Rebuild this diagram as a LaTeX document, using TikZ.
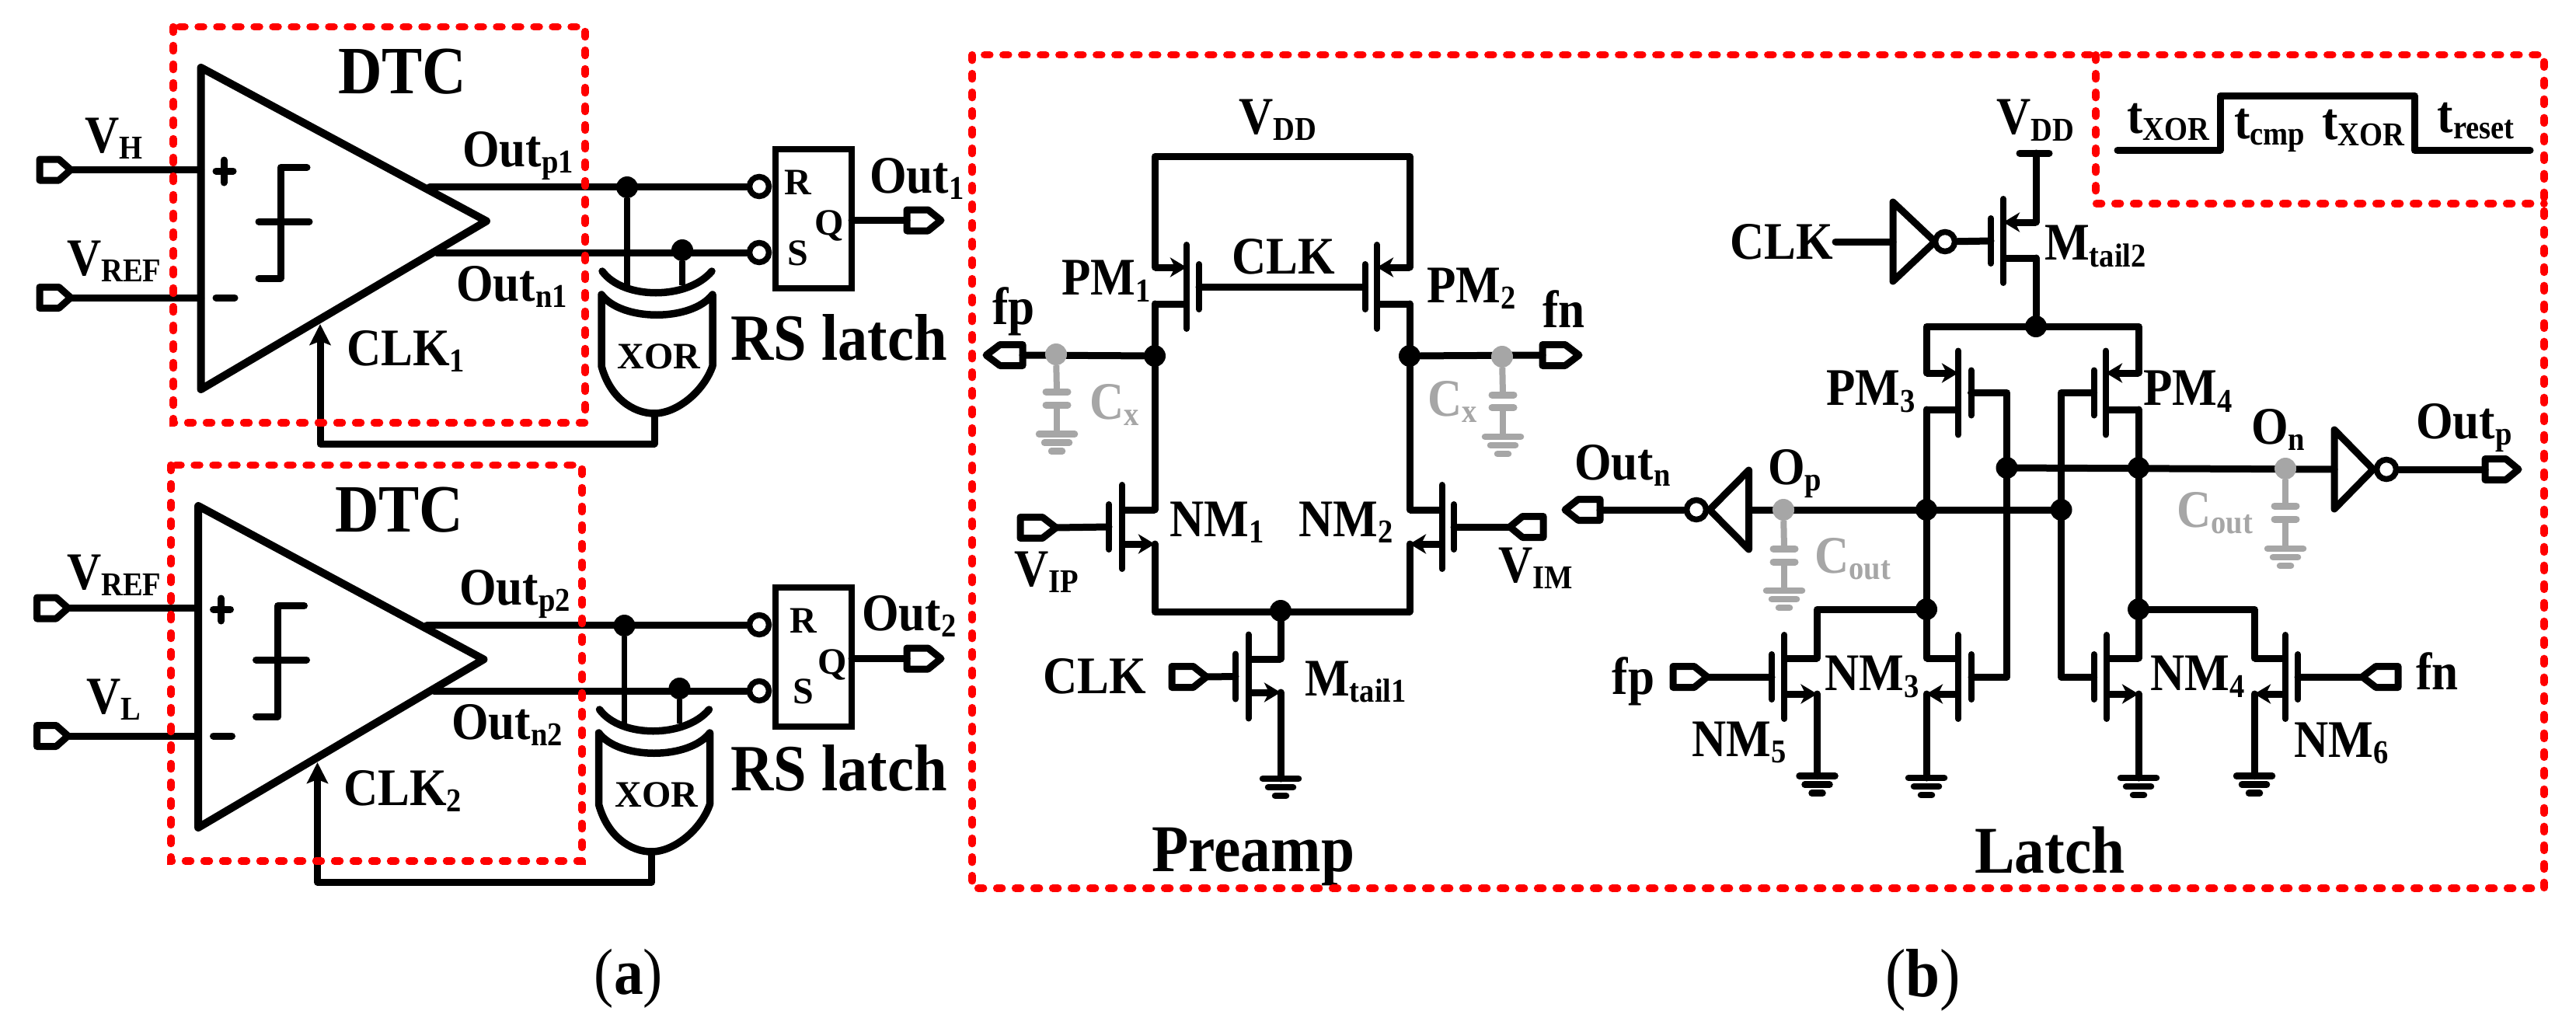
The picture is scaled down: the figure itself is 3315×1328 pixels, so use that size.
\documentclass[tikz,border=0pt]{standalone}
\usepackage{fontspec}
\usepackage{graphicx}
\setmainfont{Liberation Serif}
\usetikzlibrary{arrows.meta,calc}
\definecolor{gr}{HTML}{A6A6A6}
\definecolor{rd}{HTML}{FF0000}
\tikzset{
  wire/.style={draw=black,line width=9pt,line cap=round,line join=round},
  bar/.style={draw=black,line width=8pt,line cap=round},
  tri/.style={draw=black,fill=white,line width=10pt,line join=round},
  thinw/.style={draw=black,line width=7.5pt},
  redbox/.style={draw=rd,line width=9.5pt,line cap=round,dash pattern=on 7pt off 17pt},
  dot/.style={circle,fill=black,inner sep=0pt,minimum size=28pt},
  gdot/.style={circle,fill=gr,inner sep=0pt,minimum size=28pt},
  bub/.style={circle,draw=black,fill=white,line width=7.5pt,inner sep=0pt,minimum size=25pt},
  lbl/.style={anchor=base west,inner sep=0pt,font=\bfseries},
  cen/.style={anchor=base,inner sep=0pt,font=\bfseries},
  fettip/.style={-{Stealth[length=21pt,width=25pt,inset=6pt]}},
  clktip/.style={-{Stealth[length=27pt,width=27pt,inset=5pt]}}
}
% text label: [colour]{name}{x}{y}{size}{main}{sub}
\newcommand\Lb[7][black]{%
  \pgfmathsetmacro\subsz{#5*0.63}%
  \node[lbl,text=#1] (#2) at (#3,#4) {\scalebox{0.9}[1]{\fontsize{#5}{#5}\selectfont #6\raisebox{-0.13em}{\fontsize{\subsz}{\subsz}\selectfont #7}}};}
% port: {name}{outer tail x}{outer tip x}{y}
\newcommand\port[4]{%
  \pgfmathsetmacro\ps{(#3>#2)?1:-1}%
  \pgfmathsetmacro\pa{#2+4*\ps}%
  \pgfmathsetmacro\pb{#3-5*\ps}%
  \pgfmathsetmacro\pm{\pa+0.62*(\pb-\pa)}%
  \pgfmathsetmacro\pu{#4-13.5}%
  \pgfmathsetmacro\pd{#4+13.5}%
  \coordinate (#1-t) at (\pa,#4);
  \coordinate (#1-p) at (\pb,#4);
  \draw[wire,fill=white] (\pa,\pu) -- (\pm,\pu) -- (#1-p) -- (\pm,\pd) -- (\pa,\pd) -- cycle;}
% ground: {name}{x}{y}{colour}
\newcommand\gnd[4]{%
  \coordinate (#1) at (#2,#3);
  \draw[line width=8.5pt,line cap=round,draw=#4] ($(#1)+(-23,0)$) -- ($(#1)+(23,0)$);
  \draw[line width=8.5pt,line cap=round,draw=#4] ($(#1)+(-16,11)$) -- ($(#1)+(16,11)$);
  \draw[line width=8.5pt,line cap=round,draw=#4] ($(#1)+(-7,22)$) -- ($(#1)+(7,22)$);}
% gray capacitor: {name}{x}{plate1 y}{plate2 y}{ground y}{dot}
\newcommand\capg[6]{%
  \coordinate (#1-a) at (#2,#3);
  \coordinate (#1-b) at (#2,#4);
  \gnd{#1-g}{#2}{#5}{gr}
  \draw[line width=8pt,draw=gr] (#6) -- (#1-a);
  \draw[line width=8pt,draw=gr] (#1-b) -- (#1-g);
  \draw[line width=9pt,line cap=round,draw=gr] ($(#1-a)+(-14,0)$) -- ($(#1-a)+(14,0)$);
  \draw[line width=9pt,line cap=round,draw=gr] ($(#1-b)+(-14,0)$) -- ($(#1-b)+(14,0)$);}
% mosfet: {name}{channel x}{gate x}{gate y}{top y}{bottom y}{top x}{bottom x}{t|b arrow}
\newcommand\fet[9]{%
  \coordinate (#1-g) at (#3,#4);
  \coordinate (#1-t) at (#7,#5);
  \coordinate (#1-b) at (#8,#6);
  \coordinate (#1-ct) at (#2,#5);
  \coordinate (#1-cb) at (#2,#6);
  \draw[bar] ($(#2,#4)+(0,-54)$) -- ($(#2,#4)+(0,54)$);
  \draw[bar] ($(#1-g)+(0,-29)$) -- ($(#1-g)+(0,29)$);
  \if#9t
    \draw[wire,line cap=butt] (#1-cb) -- (#1-b);
    \draw[wire,line cap=butt,fettip] (#1-t) -- (#1-ct);
  \else
    \draw[wire,line cap=butt] (#1-ct) -- (#1-t);
    \draw[wire,line cap=butt,fettip] (#1-cb) -- (#1-b);
  \fi}
% inverter triangle: {name}{base x}{tip x}{y}
\newcommand\invt[4]{%
  \coordinate (#1-i) at (#2,#4);
  \coordinate (#1-o) at (#3,#4);
  \draw[line width=9pt,line join=round,draw=black,fill=white] ($(#1-i)+(0,-51)$) -- (#1-o) -- ($(#1-i)+(0,51)$) -- cycle;}
% comparator + XOR + latch unit: {prefix}{dx}{dy}
\newcommand\dtc[3]{%
  \begin{scope}[shift={(#2,#3)}]
    \draw[tri] (258.6,87) -- (626,284.5) -- (258.6,501) -- cycle;
    \draw[wire] (278,220) -- (300,220);
    \draw[wire] (288,206) -- (288,235);
    \draw[wire] (278,383) -- (302,383);
    \draw[wire] (395,215.5) -- (361,215.5) -- (361,358) -- (333,358);
    \draw[wire] (333,285) -- (398,285);
    \port{#1ip}{47}{96}{218.5}
    \port{#1im}{47}{96}{383}
    \coordinate (#1pl) at (258.6,218.5);
    \coordinate (#1ml) at (258.6,383);
    \draw[wire] (#1ip-p) -- (#1pl);
    \draw[wire] (#1im-p) -- (#1ml);
    \coordinate (#1op) at (553,240);
    \coordinate (#1on) at (562,325);
    \coordinate (#1a) at (807,367);
    \coordinate (#1b) at (878,367);
    \node[dot] (#1dp) at (807,241) {};
    \node[dot] (#1dn) at (878,322) {};
    \draw[line width=9.5pt,line cap=round] (775,349) .. controls (802,386) and (885,386) .. (916,349);
    \draw[line width=9.5pt,line join=round,fill=white] (774,379) -- (774,471) .. controls (785,512) and (815,532) .. (842,532) .. controls (870,532) and (905,505) .. (917,471) -- (917,379) .. controls (890,414) and (800,414) .. (774,379) -- cycle;
    \coordinate (#1xo) at (842,532);
    \coordinate (#1fb) at (842,571);
    \coordinate (#1fl) at (412,571);
    \coordinate (#1tip) at (412,417);
    \draw[wire,clktip] (#1xo) -- (#1fb) -- (#1fl) -- (#1tip);
    \draw[thinw] (#1dp) -- (#1a);
    \draw[thinw] (#1dn) -- (#1b);
  \end{scope}
  \begin{scope}[shift={(0,#3)}]
    \node[bub] (#1br) at (977,240) {};
    \node[bub] (#1bs) at (977,325) {};
    \node[draw=black,line width=8.5pt,minimum width=98pt,minimum height=179pt,inner sep=0pt] (#1rs) at (1047,281.5) {};
    \coordinate (#1qo) at (1096,283.5);
    \port{#1q}{1163}{1216}{283.5}
    \draw[wire] (#1qo) -- (#1q-t);
  \end{scope}
  \draw[wire] (#1op) -- (#1br);
  \draw[wire] (#1on) -- (#1bs);}
\begin{document}
\begin{tikzpicture}[x=1pt,y=-1pt]
\useasboundingbox (0,0) rectangle (3315,1328);
\fill[white] (0,0) rectangle (3315,1328);

%% ---------- (a) ----------
\dtc{u}{0}{0}
\dtc{w}{-3.5}{564}
\Lb{tdtc1}{435}{120}{87}{DTC}{}
\Lb{tdtc2}{431}{684}{87}{DTC}{}
\Lb{tvh}{109}{196}{68}{V}{H}
\Lb{tvr1}{86}{354}{68}{V}{REF}
\Lb{tvr2}{86}{758}{68}{V}{REF}
\Lb{tvl}{111}{918}{68}{V}{L}
\Lb{top1}{595}{214}{68}{Out}{p1}
\Lb{ton1}{587}{387}{68}{Out}{n1}
\Lb{top2}{591}{778}{68}{Out}{p2}
\Lb{ton2}{581}{951}{68}{Out}{n2}
\Lb{tck1}{446}{470}{68}{CLK}{1}
\Lb{tck2}{442}{1036}{68}{CLK}{2}
\Lb{trs1}{940}{463}{85}{RS latch}{}
\Lb{trs2}{940}{1017}{85}{RS latch}{}
\Lb{tq1}{1119}{248}{68}{Out}{1}
\Lb{tq2}{1109}{811}{68}{Out}{2}
\node[cen] (xt1) at (848,474) {\fontsize{48}{48}\selectfont XOR};
\node[cen] (xt2) at (845,1038) {\fontsize{48}{48}\selectfont XOR};
\node[cen] (rt1) at (1027,250) {\fontsize{48}{48}\selectfont R};
\node[cen] (st1) at (1027,341) {\fontsize{48}{48}\selectfont S};
\node[cen] (qt1) at (1067,302) {\fontsize{48}{48}\selectfont Q};
\node[cen] (rt2) at (1034,814) {\fontsize{48}{48}\selectfont R};
\node[cen] (st2) at (1034,905) {\fontsize{48}{48}\selectfont S};
\node[cen] (qt2) at (1071,867) {\fontsize{48}{48}\selectfont Q};
\node[anchor=base,inner sep=0pt] (capa) at (809,1279) {\scalebox{0.9}[1]{\fontsize{84}{84}\selectfont (\textbf{a})}};
\node[anchor=base,inner sep=0pt] (capb) at (2474.5,1282) {\scalebox{0.9}[1]{\fontsize{88}{88}\selectfont (\textbf{b})}};

%% ---------- Preamp ----------
\fet{pma}{1527}{1543}{369}{344}{391}{1486}{1486}{t}
\fet{pmb}{1772}{1756.5}{369}{344}{391}{1814}{1814}{t}
\fet{nma}{1444}{1427}{678}{656}{700}{1486}{1486}{b}
\fet{nmb}{1855.5}{1871}{678}{656}{700}{1814}{1814}{b}
\fet{mta}{1606.5}{1590}{870.5}{848}{891}{1648}{1648}{b}
\coordinate (vddl) at (1486,201.5);
\coordinate (vddr) at (1814,201.5);
\coordinate (botl) at (1486,787);
\coordinate (botr) at (1814,787);
\node[dot] (nfp) at (1486,458) {};
\node[dot] (nfn) at (1814,458) {};
\node[dot] (ntl) at (1648,786) {};
\draw[wire] (pma-t) -- (vddl) -- (vddr) -- (pmb-t);
\draw[wire] (pma-g) -- (pmb-g);
\draw[wire] (pma-b) -- (nfp) -- (nma-t);
\draw[wire] (pmb-b) -- (nfn) -- (nmb-t);
\draw[wire] (nma-b) -- (botl) -- (botr) -- (nmb-b);
\draw[wire] (ntl) -- (mta-t);
\port{pfp}{1320}{1264}{457}
\port{pfn}{1981}{2037}{457}
\port{pip}{1309}{1364}{679}
\port{pim}{1990}{1938}{678}
\port{pck}{1504}{1557.5}{871}
\draw[wire] (pip-p) -- (nma-g);
\draw[wire] (pim-p) -- (nmb-g);
\draw[wire] (pck-p) -- (mta-g);
\gnd{gt1}{1648}{1002}{black}
\draw[wire] (mta-b) -- (gt1);
\draw[wire] (nfp) -- (pfp-t);
\draw[wire] (nfn) -- (pfn-t);
\node[gdot] (gcl) at (1359,456) {};
\node[gdot] (gcr) at (1933,459) {};
\capg{cxl}{1360}{504}{521}{558.6}{gcl}
\capg{cxr}{1934}{508}{524.5}{562}{gcr}

\Lb{tvdd1}{1594}{172}{68}{V}{DD}
\Lb{tckp}{1585}{352}{68}{CLK}{}
\Lb{tpm1}{1366}{379.5}{68}{PM}{1}
\Lb{tpm2}{1836}{389}{68}{PM}{2}
\Lb{tfp1}{1277}{417}{68}{fp}{}
\Lb{tfn1}{1985}{421.5}{68}{fn}{}
\Lb[gr]{tcx1}{1402}{539}{68}{C}{x}
\Lb[gr]{tcx2}{1837}{535}{68}{C}{x}
\Lb{tnm1}{1505}{690}{68}{NM}{1}
\Lb{tnm2}{1671}{690}{68}{NM}{2}
\Lb{tvip}{1305}{754}{68}{V}{IP}
\Lb{tvim}{1928}{749}{68}{V}{IM}
\Lb{tckm}{1342}{892}{68}{CLK}{}
\Lb{tmt1}{1679}{895}{68}{M}{tail1}
\Lb{tpre}{1482}{1121}{86}{Preamp}{}

%% ---------- Latch ----------
\fet{mtb}{2578}{2562}{310}{286}{332}{2620}{2620}{t}
\fet{pmc}{2520}{2536.5}{505.5}{480}{527}{2479}{2479}{t}
\fet{pmd}{2710}{2694.6}{505.5}{480}{527}{2752}{2752}{t}
\fet{nme}{2296.4}{2280}{871}{847}{893}{2338.5}{2338.5}{b}
\fet{nmc}{2520}{2537}{871}{847}{893}{2479}{2479}{b}
\fet{nmd}{2711}{2694.6}{871}{847}{893}{2752}{2752}{b}
\fet{nmf}{2941}{2957}{871}{847}{893}{2901}{2901}{b}
\coordinate (vbl) at (2599,197);
\coordinate (vbr) at (2637,197);
\coordinate (vbc) at (2620,197);
\draw[wire] (vbl) -- (vbr);
\draw[wire] (vbc) -- (mtb-t);
\node[dot] (dtp) at (2620,420) {};
\coordinate (topl) at (2479,420);
\coordinate (topr) at (2752,420);
\draw[wire] (mtb-b) -- (dtp);
\draw[wire] (pmc-t) -- (topl) -- (topr) -- (pmd-t);
\node[dot] (don1) at (2582.5,602) {};
\node[dot] (don2) at (2752,602) {};
\node[dot] (dop1) at (2479,656) {};
\node[dot] (dop2) at (2652.5,656) {};
\node[dot] (dl3) at (2479,784) {};
\node[dot] (dl4) at (2752,784) {};
\draw[wire] (pmc-b) -- (dop1.center) -- (dl3.center) -- (nmc-t);
\draw[wire] (pmd-b) -- (don2.center) -- (dl4.center) -- (nmd-t);
\draw[wire] (pmc-g) -| (don1.center) |- (nmc-g);
\draw[wire] (pmd-g) -| (dop2.center) |- (nmd-g);
\draw[wire] (dl3.center) -| (nme-t);
\draw[wire] (dl4.center) -| (nmf-t);
% inverters
\invt{ivc}{2436}{2490}{311}
\node[bub] (bvc) at (2503,311) {};
\coordinate (cks) at (2362,311);
\draw[wire] (cks) -- (ivc-i);
\draw[wire] (bvc) -- (mtb-g);
\invt{ivn}{3004}{3054}{604}
\node[bub] (bvn) at (3071,604) {};
\invt{ivp}{2250.5}{2200}{656}
\node[bub] (bvp) at (2183,656) {};
\port{pon}{3194}{3246}{604}
\port{pop}{2063}{2009}{656}
\draw[wire] (bvn) -- (pon-t);
\draw[wire] (bvp) -- (pop-t);
\draw[wire] (ivp-i) -- (dop2.center);
\draw[wire] (don1.center) -- (ivn-i);
\port{pfp2}{2149}{2202}{871}
\port{pfn2}{3090}{3035}{871}
\draw[wire] (pfp2-p) -- (nme-g);
\draw[wire] (pfn2-p) -- (nmf-g);
\gnd{gl5}{2338.5}{998.6}{black}
\gnd{gl3}{2479}{1001}{black}
\gnd{gl4}{2752}{1001}{black}
\gnd{gl6}{2901}{998.6}{black}
\draw[wire] (nme-b) -- (gl5);
\draw[wire] (nmc-b) -- (gl3);
\draw[wire] (nmd-b) -- (gl4);
\draw[wire] (nmf-b) -- (gl6);
\node[gdot] (gop) at (2295,656) {};
\node[gdot] (gon) at (2941,603) {};
\capg{col}{2296}{706}{723}{760}{gop}
\capg{cor}{2941}{651}{668}{706}{gon}
% timing
\coordinate (t0) at (2725,193.4);
\coordinate (t1) at (2857,193.4);
\coordinate (t2) at (2857,123);
\coordinate (t3) at (3107,123);
\coordinate (t4) at (3107,193.4);
\coordinate (t5) at (3256,193.4);
\draw[wire] (t0) -- (t1) -- (t2) -- (t3) -- (t4) -- (t5);

\Lb{tvdd2}{2569}{172.5}{68}{V}{DD}
\Lb{tckl}{2226}{333}{68}{CLK}{}
\Lb{tmt2}{2631}{334.6}{68}{M}{tail2}
\Lb{tpm3}{2350}{521.6}{68}{PM}{3}
\Lb{tpm4}{2758}{521.6}{68}{PM}{4}
\Lb{ton}{2897}{571}{68}{O}{n}
\Lb{tout}{3109}{564}{68}{Out}{p}
\Lb{toutn}{2026}{617}{68}{Out}{n}
\Lb{top}{2275}{623}{68}{O}{p}
\Lb[gr]{tcol}{2335}{737}{68}{C}{out}
\Lb[gr]{tcor}{2801}{678}{68}{C}{out}
\Lb{tfp2}{2074.5}{893}{68}{fp}{}
\Lb{tnm3}{2348}{888.6}{68}{NM}{3}
\Lb{tnm4}{2767}{888.6}{68}{NM}{4}
\Lb{tnm5}{2177}{973}{68}{NM}{5}
\Lb{tnm6}{2952}{974}{68}{NM}{6}
\Lb{tfn2}{3109}{887}{68}{fn}{}
\Lb{tlat}{2541}{1123}{86}{Latch}{}
\Lb{tt1}{2737}{171.7}{68}{t}{XOR}
\Lb{tt2}{2875}{178}{68}{t}{cmp}
\Lb{tt3}{2988}{179}{68}{t}{XOR}
\Lb{tt4}{3136.6}{170}{68}{t}{reset}

%% ---------- red boxes ----------
\coordinate (ra1) at (223,34.5);
\coordinate (ra2) at (753,544);
\coordinate (rb1) at (220,598.5);
\coordinate (rb2) at (749,1108);
\coordinate (rc1) at (1251,70.6);
\coordinate (rc2) at (3274,1143);
\coordinate (rd1) at (2697,70.6);
\coordinate (rd2) at (3274,262);
\draw[redbox] (ra1) rectangle (ra2);
\draw[redbox] (rb1) rectangle (rb2);
\draw[redbox] (rc1) rectangle (rc2);
\draw[redbox] (rd1) |- (rd2);
\end{tikzpicture}
\end{document}
